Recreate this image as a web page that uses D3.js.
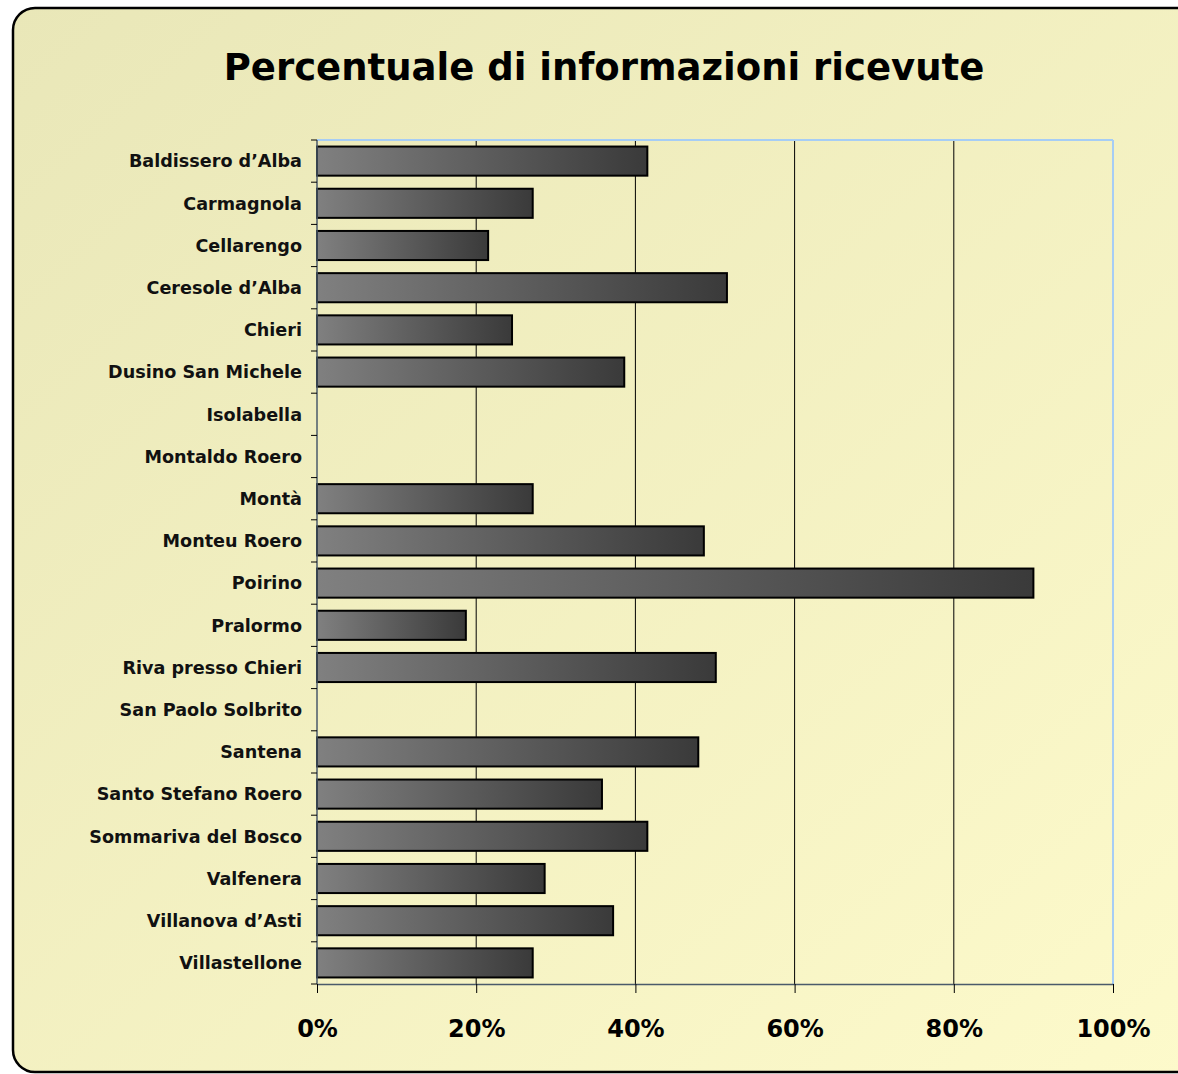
<!DOCTYPE html>
<html>
<head>
<meta charset="utf-8">
<script src="https://cdn.jsdelivr.net/npm/d3@7"></script>
<style>
  body { margin: 0; background: #fff; }
</style>
</head>
<body>
<script>
// dati
var comuni = ["Baldissero d'Alba", "Carmagnola", "Cellarengo", "Ceresole d'Alba", "Chieri",
  "Dusino San Michele", "Isolabella", "Montaldo Roero", "Montà", "Monteu Roero", "Poirino",
  "Pralormo", "Riva presso Chieri", "San Paolo Solbrito", "Santena", "Santo Stefano Roero",
  "Sommariva del Bosco", "Valfenera", "Villanova d'Asti", "Villastellone"];
var percentuali = [0.415, 0.271, 0.215, 0.515, 0.245, 0.386, 0, 0, 0.271, 0.486, 0.90,
  0.187, 0.501, 0, 0.479, 0.358, 0.415, 0.286, 0.372, 0.271];
var tickX = [0, 0.2, 0.4, 0.6, 0.8, 1];

var W = 1178, H = 1074;
var svg = d3.select("body").append("svg")
  .attr("width", W)
  .attr("height", H);

var defs = svg.append("defs");
var bg = defs.append("linearGradient").attr("id", "bg")
  .attr("x1", 0).attr("y1", 0).attr("x2", 1).attr("y2", 1);
bg.append("stop").attr("offset", "0%").attr("stop-color", "#e9e7b8");
bg.append("stop").attr("offset", "100%").attr("stop-color", "#fdfacb");

var barGrad = defs.append("linearGradient").attr("id", "barGrad")
  .attr("x1", 0).attr("y1", 0).attr("x2", 1).attr("y2", 0);
barGrad.append("stop").attr("offset", "0%").attr("stop-color", "#808080");
barGrad.append("stop").attr("offset", "100%").attr("stop-color", "#3a3a3a");

// sfondo con bordo arrotondato
svg.append("rect")
  .attr("x", 13)
  .attr("y", 8)
  .attr("width", 1190)
  .attr("height", 1064)
  .attr("rx", 22)
  .attr("fill", "url(#bg)")
  .attr("stroke", "#000")
  .attr("stroke-width", 2.5);

// titolo
svg.append("text")
  .attr("x", 604)
  .attr("y", 80)
  .attr("text-anchor", "middle")
  .style("font-family", "Verdana, 'DejaVu Sans', sans-serif")
  .style("font-weight", "bold")
  .style("font-size", "37px")
  .attr("fill", "#000")
  .text("Percentuale di informazioni ricevute");

var pLeft = 317, pRight = 1113, pTop = 140, pBottom = 984;

var x = d3.scaleLinear().domain([0, 1]).range([pLeft, pRight]);
var y = d3.scaleBand().domain(comuni).range([pTop, pBottom]).paddingInner(0.31).paddingOuter(0.155);

// griglia
svg.selectAll(".grid")
  .data(tickX.slice(1, -1))
  .enter().append("line")
  .attr("x1", function(d) { return x(d); })
  .attr("x2", function(d) { return x(d); })
  .attr("y1", pTop)
  .attr("y2", pBottom)
  .attr("stroke", "#000")
  .attr("stroke-width", 1);

// bordo area grafico
svg.append("line").attr("x1", pLeft).attr("x2", pRight).attr("y1", pTop).attr("y2", pTop)
  .attr("stroke", "#a6cdf5").attr("stroke-width", 2);
svg.append("line").attr("x1", pRight).attr("x2", pRight).attr("y1", pTop).attr("y2", pBottom)
  .attr("stroke", "#a6cdf5").attr("stroke-width", 2);

// barre
svg.selectAll(".bar")
  .data(comuni.filter(function(d, i) { return percentuali[i] > 0; }))
  .enter().append("rect")
  .attr("x", x(0))
  .attr("y", function(d) { return y(d); })
  .attr("width", function(d) { return x(percentuali[comuni.indexOf(d)]) - x(0); })
  .attr("height", y.bandwidth())
  .attr("fill", "url(#barGrad)")
  .attr("stroke", "#000")
  .attr("stroke-width", 2);

// asse y
var yTicks = d3.range(comuni.length + 1).map(function(i) { return pTop + i * (pBottom - pTop) / comuni.length; });
svg.append("line").attr("x1", pLeft).attr("x2", pLeft).attr("y1", pTop).attr("y2", pBottom)
  .attr("stroke", "#4a5a6a").attr("stroke-width", 1.5);
svg.selectAll(".ytick")
  .data(yTicks)
  .enter().append("line")
  .attr("x1", pLeft - 6).attr("x2", pLeft)
  .attr("y1", function(d) { return d; }).attr("y2", function(d) { return d; })
  .attr("stroke", "#000");

svg.selectAll(".ylab")
  .data(comuni)
  .enter().append("text")
  .attr("x", 302)
  .attr("y", function(d) { return y(d) + y.bandwidth() / 2; })
  .attr("dy", "0.36em")
  .attr("text-anchor", "end")
  .style("font-family", "Verdana, 'DejaVu Sans', sans-serif")
  .style("font-weight", "bold")
  .style("font-size", "17.6px")
  .attr("fill", "#111")
  .text(function(d) { return d.replace("'", "’"); });

// asse x
var xAxis = d3.axisBottom(x)
  .tickValues(tickX)
  .tickFormat(d3.format(".0%"))
  .tickSizeInner(9)
  .tickSizeOuter(0)
  .tickPadding(27);

var gx = svg.append("g")
  .attr("transform", "translate(0," + pBottom + ")")
  .call(xAxis);
gx.select(".domain").attr("stroke", "#4a5a6a").attr("stroke-width", 1.5);
gx.selectAll(".tick line").attr("stroke", "#000");
gx.selectAll(".tick text")
  .style("font-family", "Verdana, 'DejaVu Sans', sans-serif")
  .style("font-weight", "bold")
  .style("font-size", "24px")
  .attr("fill", "#000");
</script>
</body>
</html>
